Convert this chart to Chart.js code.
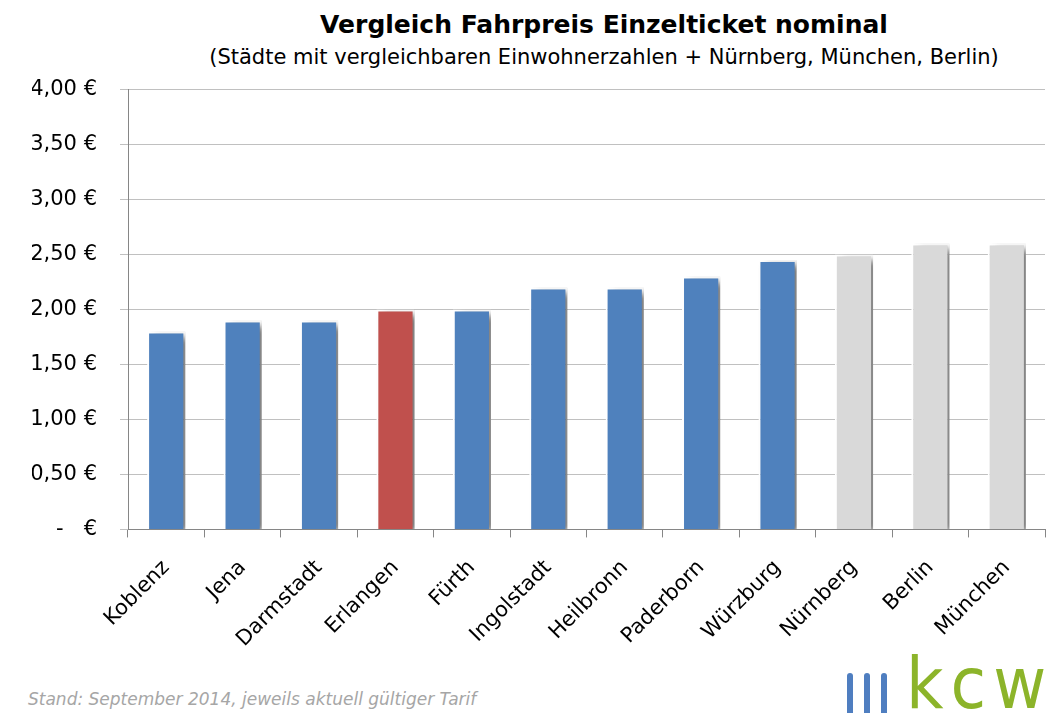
<!DOCTYPE html>
<html>
  <head>
    <title>Vergleich Fahrpreis Einzelticket nominal</title>
    <meta charset="UTF-8">
    <script src="https://cdn.jsdelivr.net/npm/chart.js"></script>
    <style>
      body { margin: 0; background: #fff; font-family: "DejaVu Sans", sans-serif; }
      #page { position: relative; width: 1057px; height: 713px; overflow: hidden; }
      .title { position: absolute; left: 154px; width: 900px; text-align: center; color: #000; }
      #t1 { top: 10px; font-size: 25px; font-weight: bold; }
      #t2 { top: 45px; font-size: 21px; }
      #chartBox { position: absolute; left: 0; top: 54px; width: 1057px; height: 620px; }
      #footer { position: absolute; left: 28px; top: 689px; font-size: 17px; font-style: italic; color: #a6a6a6; }
      .lbar { position: absolute; top: 673px; width: 6px; height: 50px; background: #4f7ec0; border-radius: 3px; }
      #kcw { position: absolute; left: 906px; top: 647px; font-family: "DejaVu Sans Condensed", "DejaVu Sans", sans-serif;
             font-size: 72px; color: #8cb42a; letter-spacing: 7px; line-height: 1; }
    </style>
  </head>
  <body>
    <div id="page">
      <div class="title" id="t1">Vergleich Fahrpreis Einzelticket nominal</div>
      <div class="title" id="t2">(Städte mit vergleichbaren Einwohnerzahlen + Nürnberg, München, Berlin)</div>
      <div id="chartBox"><canvas id="fareChart"></canvas></div>
      <div id="footer">Stand: September 2014, jeweils aktuell gültiger Tarif</div>
      <div class="lbar" style="left:847px"></div>
      <div class="lbar" style="left:864px"></div>
      <div class="lbar" style="left:881px"></div>
      <div id="kcw">kcw</div>
    </div>
    <script>
      // Cities and single-ticket fares (EUR)
      const cities = ['Koblenz', 'Jena', 'Darmstadt', 'Erlangen', 'Fürth', 'Ingolstadt',
                      'Heilbronn', 'Paderborn', 'Würzburg', 'Nürnberg', 'Berlin', 'München'];
      const fares  = [1.80, 1.90, 1.90, 2.00, 2.00, 2.20, 2.20, 2.30, 2.45, 2.50, 2.60, 2.60];
      // group of each city: 'same' = comparable size, 'own' = Erlangen, 'big' = large cities
      const groups = ['same', 'same', 'same', 'own', 'same', 'same',
                      'same', 'same', 'same', 'big', 'big', 'big'];
      const groupColors = { same: '#4f81bd', own: '#c0504d', big: '#d9d9d9' };

      const fontFam = '"DejaVu Sans", sans-serif';

      // soft drop shadow to the lower right of every bar
      const barShadow = {
        id: 'barShadow',
        beforeDatasetsDraw(chart) {
          const c = chart.ctx;
          c.save();
          c.shadowColor = 'rgba(0,0,0,0.5)';
          c.shadowBlur = 7;
          c.shadowOffsetX = 7;
          c.shadowOffsetY = 3;
        },
        afterDatasetsDraw(chart) {
          chart.ctx.restore();
        }
      };

      const ctx = document.getElementById('fareChart').getContext('2d');
      new Chart(ctx, {
        type: 'bar',
        data: {
          labels: cities,
          datasets: [{
            data: fares,
            backgroundColor: groups.map(g => groupColors[g]),
            borderColor: '#ffffff',
            borderWidth: 2,
            barPercentage: 0.5,
            categoryPercentage: 1
          }]
        },
        options: {
          responsive: true,
          maintainAspectRatio: false,
          animation: false,
          layout: { padding: { left: 32, right: 12, top: 9, bottom: 4 } },
          plugins: {
            legend: { display: false },
            tooltip: { enabled: false }
          },
          scales: {
            x: {
              // the rotated first label may hang left under the y labels
              afterFit: s => { s.paddingLeft = 0; },
              grid: { drawOnChartArea: false, tickLength: 8, color: '#868686' },
              border: { color: '#868686' },
              ticks: {
                color: '#000',
                font: { family: fontFam, size: 21 },
                maxRotation: 45,
                minRotation: 45,
                padding: 18
              }
            },
            y: {
              min: 0,
              max: 4,
              afterFit: s => { s.width = 96; },
              grid: { color: '#c0c0c0', tickLength: 8 },
              border: { color: '#868686' },
              ticks: {
                stepSize: 0.5,
                color: '#000',
                padding: 23,
                font: { family: fontFam, size: 21 },
                callback: v => v === 0 ? '-   €' : v.toFixed(2).replace('.', ',') + ' €'
              }
            }
          }
        },
        plugins: [barShadow]
      });
    </script>
  </body>
</html>
